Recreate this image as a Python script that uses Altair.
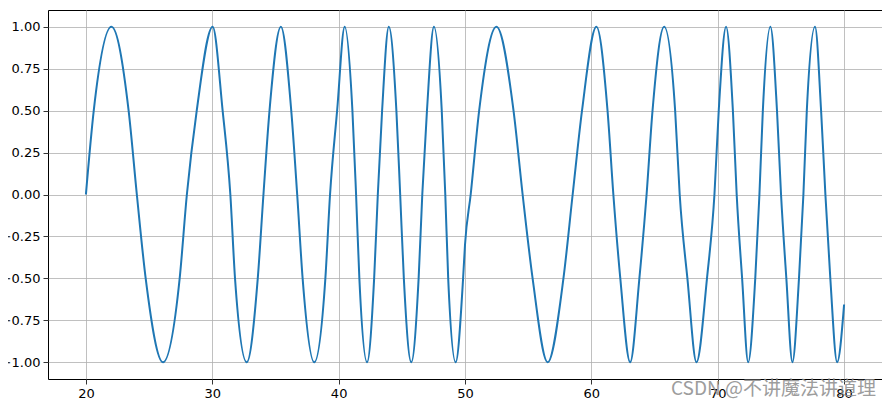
import altair as alt
import pandas as pd

# Key points (peaks, troughs, zero and ±0.5 crossings)
xs = [20.00, 20.62, 22.02, 23.38, 24.03, 24.73, 26.10, 27.42, 27.99, 28.77,
      30.03, 30.82, 31.43, 31.80, 32.73, 33.60, 34.05, 34.53, 35.43, 36.25,
      36.72, 37.15, 38.07, 38.95, 39.32, 39.88, 40.48, 41.09, 41.38, 41.64,
      42.25, 42.81, 43.10, 43.44, 43.97, 44.57, 44.87, 45.16, 45.75, 46.33,
      46.62, 46.99, 47.54, 48.16, 48.44, 48.67, 49.26, 49.85, 50.00, 50.45,
      51.12, 52.49, 53.84, 54.56, 55.35, 56.54, 57.79, 58.52, 59.26, 60.40,
      61.28, 61.74, 62.29, 63.07, 63.80, 64.37, 64.84, 65.76, 66.63, 66.99,
      67.60, 68.32, 69.15, 69.74, 70.08, 70.66, 71.20, 71.50, 71.93, 72.41,
      72.97, 73.30, 73.57, 74.17, 74.69, 75.01, 75.43, 75.91, 76.43, 76.78,
      77.05, 77.70, 78.18, 78.52, 78.91, 79.45, 80.00]
ys = [0.0, 0.5, 1.0, 0.5, 0.0, -0.5, -1.0, -0.5, 0.0, 0.5,
      1.0, 0.5, 0.0, -0.5, -1.0, -0.5, 0.0, 0.5, 1.0, 0.5,
      0.0, -0.5, -1.0, -0.5, 0.0, 0.5, 1.0, 0.5, 0.0, -0.5,
      -1.0, -0.5, 0.0, 0.5, 1.0, 0.5, 0.0, -0.5, -1.0, -0.5,
      0.0, 0.5, 1.0, 0.5, 0.0, -0.5, -1.0, -0.5, -0.30, 0.0,
      0.5, 1.0, 0.5, 0.0, -0.5, -1.0, -0.5, 0.0, 0.5, 1.0,
      0.5, 0.0, -0.5, -1.0, -0.5, 0.0, 0.5, 1.0, 0.5, 0.0,
      -0.5, -1.0, -0.5, 0.0, 0.5, 1.0, 0.5, 0.0, -0.5, -1.0,
      -0.5, 0.0, 0.5, 1.0, 0.5, 0.0, -0.5, -1.0, -0.5, 0.0,
      0.5, 1.0, 0.5, 0.0, -0.5, -1.0, -0.656]

x_ticks = [20, 30, 40, 50, 60, 70, 80]
y_ticks = [-1.0, -0.75, -0.5, -0.25, 0.0, 0.25, 0.5, 0.75, 1.0]
watermark = "CSDN @不讲魔法讲道理"

df = pd.DataFrame({"x": xs, "y": ys})

axis_common = dict(
    grid=True, gridColor="#b0b0b0", gridWidth=0.8,
    domain=False, ticks=True, tickColor="black", tickSize=5, tickWidth=0.8,
    labelColor="black", labelFont="DejaVu Sans", labelFontSize=13,
    labelPadding=3, title=None,
)

line = alt.Chart(df).mark_line(
    color="#1f77b4", strokeWidth=2, interpolate="monotone", clip=True
).encode(
    x=alt.X("x:Q", scale=alt.Scale(domain=[17, 83], nice=False, zero=False),
            axis=alt.Axis(values=x_ticks, format="d", **axis_common)),
    y=alt.Y("y:Q", scale=alt.Scale(domain=[-1.1, 1.1], nice=False, zero=False),
            axis=alt.Axis(values=y_ticks, format=".2f", **axis_common)),
)

mark_df = pd.DataFrame({"t": [watermark]})
wm = alt.Chart(mark_df).mark_text(
    align="right", baseline="alphabetic", fontSize=19, color="#8c8c8c",
    font="Noto Sans CJK SC", opacity=0.85,
).encode(text="t:N", x=alt.value(828), y=alt.value(385))

chart = alt.layer(line, wm).properties(
    width=834, height=369,
    autosize=alt.AutoSizeParams(type="none"),
    padding={"left": 40, "top": 2, "right": 0, "bottom": 26},
).configure_view(stroke="black", strokeWidth=1)

chart.save("out.html", embed_options={"renderer": "svg", "actions": False})
